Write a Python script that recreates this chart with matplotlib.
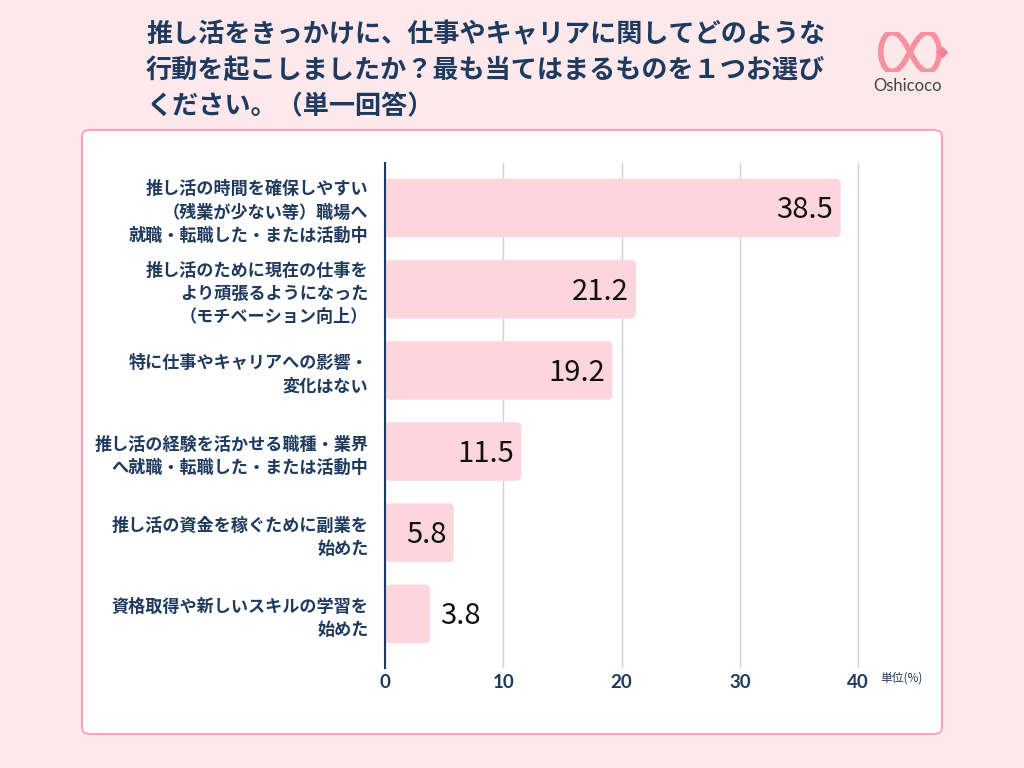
import numpy as np
import matplotlib
matplotlib.use("Agg")
import matplotlib.pyplot as plt
from matplotlib.patches import FancyBboxPatch

plt.rcParams['font.family'] = ['Noto Sans CJK JP', 'DejaVu Sans']

# data
categories = [
    "推し活の時間を確保しやすい\n（残業が少ない等）職場へ\n就職・転職した・または活動中",
    "推し活のために現在の仕事を\nより頑張るようになった\n（モチベーション向上）",
    "特に仕事やキャリアへの影響・\n変化はない",
    "推し活の経験を活かせる職種・業界\nへ就職・転職した・または活動中",
    "推し活の資金を稼ぐために副業を\n始めた",
    "資格取得や新しいスキルの学習を\n始めた",
]
values = [38.5, 21.2, 19.2, 11.5, 5.8, 3.8]
xticks = [0, 10, 20, 30, 40]

title = ("推し活をきっかけに、仕事やキャリアに関してどのような\n"
         "行動を起こしましたか？最も当てはまるものを１つお選び\n"
         "ください。（単一回答）")

navy = "#1f3a5f"
bar_color = "#fdd6dc"
bg = "#fde8ec"

fig = plt.figure(figsize=(10.24, 7.68), dpi=100)
fig.patch.set_facecolor(bg)

# white card
card = FancyBboxPatch((82 / 1024, 1 - 734 / 768), 860 / 1024, 604 / 768,
                      boxstyle="round,pad=0,rounding_size=0.008",
                      transform=fig.transFigure, facecolor="white",
                      edgecolor="#f7a9b3", linewidth=1.5, zorder=-5)
fig.patches.append(card)

# title
fig.text(146 / 1024, 1 - 21 / 768, title, ha="left", va="top", fontsize=18.8,
         fontweight="bold", color=navy, linespacing=1.43)

# logo
lax = fig.add_axes([872 / 1024, 1 - 72 / 768, 76 / 1024, 40 / 768])
t = np.linspace(0, 2 * np.pi, 400)
lx = np.cos(t) / (1 + np.sin(t) ** 2)
ly = np.sin(t) * np.cos(t) / (1 + np.sin(t) ** 2)
lax.plot(lx, ly * 2.2, color="#f4838f", lw=4, solid_capstyle="round", alpha=0.85)
lax.plot([1.08], [0.0], marker="D", color="#f4838f", ms=5)
lax.set_xlim(-1.3, 1.3)
lax.set_ylim(-0.8, 0.8)
lax.axis("off")
fig.text(908 / 1024, 1 - 86 / 768, "Oshicoco", ha="center", va="center",
         fontsize=12, color="#444444", family="Lato")

# main axes
unit = 11.825
left_px, bottom_px, top_px = 385, 668, 163
ax = fig.add_axes([left_px / 1024, 1 - bottom_px / 768,
                   41 * unit / 1024, (bottom_px - top_px) / 768])
ax.set_facecolor("none")
ax.set_xlim(0, 41)
ax.set_ylim(5.665, -0.554)

y = np.arange(len(categories))
bars = ax.barh(y, values, height=0.715, color=bar_color, zorder=3)

# swap plain rectangles for rounded ones (same geometry)
aspect = (6.219 / 505) / (1 / unit)
for b in bars:
    x0, y0 = b.get_x(), b.get_y()
    w, h = b.get_width(), b.get_height()
    b.set_visible(False)
    rb = FancyBboxPatch((x0, y0), w, h,
                        boxstyle="round,pad=0,rounding_size=0.4",
                        mutation_aspect=aspect, facecolor=bar_color,
                        edgecolor="#f9dde1", linewidth=0.6, zorder=3)
    ax.add_patch(rb)

for yi, v in zip(y, values):
    if v > 5:
        ax.text(v - 0.6, yi + 0.03, f"{v}", ha="right", va="center",
                fontsize=21, color="#111111", zorder=4)
    else:
        ax.text(v + 0.85, yi + 0.03, f"{v}", ha="left", va="center",
                fontsize=21, color="#111111", zorder=4)

ax.set_xticks(xticks)
ax.set_xticklabels([str(x) for x in xticks], fontsize=13.5, fontweight="bold",
                   color=navy, family="Lato")
ax.tick_params(axis="x", length=0, pad=4)
ax.set_yticks(y)
ax.set_yticklabels(categories, fontsize=12.3, fontweight="bold", color=navy,
                   linespacing=1.38)
ax.tick_params(axis="y", length=0, pad=12)
for lab in ax.get_yticklabels():
    lab.set_ha("right")

ax.grid(axis="x", color="#d0d0d0", linewidth=1, zorder=1)
for s in ["top", "right", "bottom"]:
    ax.spines[s].set_visible(False)
ax.spines["left"].set_color(navy)
ax.spines["left"].set_linewidth(1.5)
ax.spines["left"].set_zorder(5)

fig.text(880 / 1024, 1 - 678 / 768, "単位(%)", ha="left", va="center",
         fontsize=8.5, color=navy)

plt.savefig("out.png", dpi=100, facecolor=fig.get_facecolor())
